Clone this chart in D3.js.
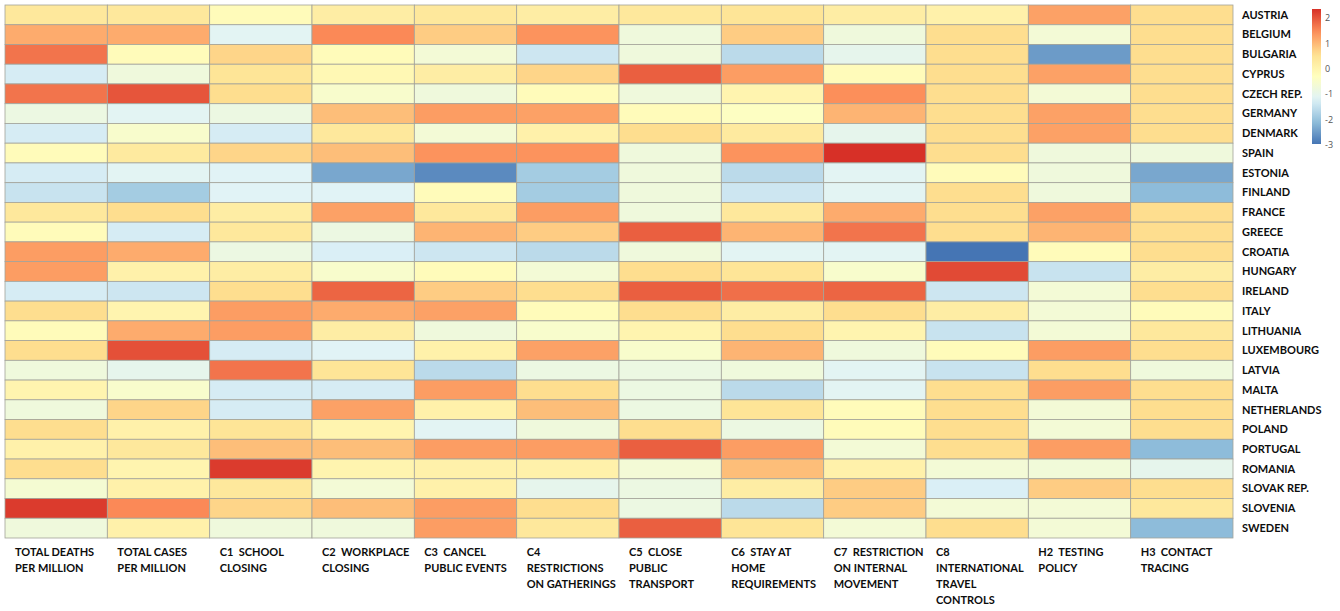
<!DOCTYPE html>
<html>
<head>
<meta charset="utf-8">
<script src="https://cdn.jsdelivr.net/npm/d3@7"></script>
<style>
  body { margin: 0; background: #fff; }
  svg { display: block; }
  .lab { white-space: pre; }
</style>
</head>
<body>
<svg width="1340" height="611"></svg>
<script>
const countries = ["AUSTRIA", "BELGIUM", "BULGARIA", "CYPRUS", "CZECH REP.", "GERMANY", "DENMARK",
  "SPAIN", "ESTONIA", "FINLAND", "FRANCE", "GREECE", "CROATIA", "HUNGARY", "IRELAND", "ITALY",
  "LITHUANIA", "LUXEMBOURG", "LATVIA", "MALTA", "NETHERLANDS", "POLAND", "PORTUGAL", "ROMANIA",
  "SLOVAK REP.", "SLOVENIA", "SWEDEN"];

// column labels, one entry per line
const measures = [
  ["TOTAL DEATHS", "PER MILLION"],
  ["TOTAL CASES", "PER MILLION"],
  ["C1  SCHOOL", "CLOSING"],
  ["C2  WORKPLACE", "CLOSING"],
  ["C3  CANCEL", "PUBLIC EVENTS"],
  ["C4", "RESTRICTIONS", "ON GATHERINGS"],
  ["C5  CLOSE", "PUBLIC", "TRANSPORT"],
  ["C6  STAY AT", "HOME", "REQUIREMENTS"],
  ["C7  RESTRICTION", "ON INTERNAL", "MOVEMENT"],
  ["C8", "INTERNATIONAL", "TRAVEL", "CONTROLS"],
  ["H2  TESTING", "POLICY"],
  ["H3  CONTACT", "TRACING"]
];

// standardised scores, one row per country, one value per measure
const scores = [
  [0.35, 0.35, -0.2, 0.2, 0.35, 0.2, 0.35, 0.45, 0.2, 0.1, 1.25, 0.6],
  [1.15, 1.15, -1.1, 1.5, 0.8, 1.4, -0.75, 0.8, -0.75, 0.6, -0.65, 0.6],
  [1.7, -0.2, 0.7, -0.2, -0.65, -1.4, -0.75, -1.6, -1.0, 0.6, -2.5, 0.6],
  [-1.3, -0.75, 0.45, -0.1, 0.2, 0.7, 1.9, 1.3, -0.2, 0.6, 1.25, 0.6],
  [1.7, 2.0, 0.6, -0.5, -0.75, -0.2, -0.75, 0.0, 1.45, 0.6, -0.65, 0.6],
  [-0.85, -1.1, -0.85, 0.95, 1.3, 1.25, -0.2, -0.35, 1.05, 0.6, 1.25, 0.6],
  [-1.3, -0.5, -1.3, 0.35, -0.65, 0.1, 0.6, 0.3, -1.0, 0.6, 1.25, 0.6],
  [-0.2, 0.3, 0.7, 0.95, 1.4, 1.4, -0.75, 1.4, 2.35, 0.6, -0.75, -0.75],
  [-1.3, -1.1, -1.15, -2.35, -2.7, -1.85, -0.75, -1.6, -1.1, -0.2, -0.75, -2.35],
  [-1.45, -1.85, -1.15, -1.15, -0.2, -1.85, -0.75, -1.4, -1.1, 0.6, -0.75, -2.1],
  [0.35, 0.6, 0.2, 1.25, 0.35, 1.3, -0.75, 0.35, 1.15, 0.6, 1.25, 0.6],
  [-0.2, -1.3, 0.35, -0.85, 1.05, 0.8, 1.9, 1.05, 1.7, 0.6, 1.05, 0.6],
  [1.3, 1.15, -0.85, -1.25, -1.4, -1.6, -0.75, -1.1, -1.1, -2.95, -0.2, 0.6],
  [1.3, 0.1, 0.2, -0.5, -0.2, -0.65, 0.6, 0.45, -0.5, 2.1, -1.45, 0.2],
  [-1.3, -1.4, 0.6, 1.85, 0.8, 0.6, 1.9, 1.75, 1.85, -1.4, -0.65, 0.6],
  [0.6, 0.0, 1.3, 1.15, 1.25, -0.2, 0.6, 0.2, 0.6, 0.2, -0.65, -0.2],
  [-0.2, 1.15, 1.3, 0.2, -0.75, -0.5, 0.0, 0.6, 0.0, -1.45, -0.65, 0.35],
  [0.6, 2.05, -1.3, -1.15, 0.1, 1.25, -0.5, 1.05, -0.75, -0.2, 1.3, 0.6],
  [-0.75, -1.0, 1.7, 0.45, -1.6, -0.85, -0.85, -0.75, -1.1, -1.45, 0.6, -0.75],
  [0.0, -0.5, -1.3, -1.3, 1.3, 0.6, -0.85, -1.6, -1.1, 0.6, 1.3, 0.6],
  [-0.75, 0.7, -1.3, 1.25, 0.1, 0.95, -0.85, 0.45, -0.2, 0.6, -0.65, 0.6],
  [0.6, 0.1, 0.45, 0.0, -1.1, -0.75, 0.6, -0.85, -0.2, 0.6, -0.65, 0.6],
  [0.1, 0.35, 0.95, 0.95, 1.3, 1.3, 1.9, 1.3, -0.65, 0.6, 1.3, -2.1],
  [0.6, 0.0, 2.25, 0.0, 0.1, 0.1, -0.65, 0.95, 0.1, -0.65, -0.7, -1.0],
  [-0.6, 0.1, 0.35, -0.65, 0.1, -1.0, -0.85, 0.2, 0.8, -1.25, 0.8, 0.6],
  [2.25, 1.5, 0.7, 0.95, 1.3, 0.6, -0.85, -1.6, 0.8, -0.65, -0.65, 0.35],
  [-0.75, 0.1, -0.75, -0.75, 1.3, 0.35, 1.9, 0.45, -0.65, 0.6, -0.65, -2.1]
];

const legendTicks = [-3, -2, -1, 0, 1, 2];
const palette = ["#4575B4", "#91BFDB", "#E0F3F8", "#FFFFBF", "#FEE090", "#FC8D59", "#D73027"];

const svg = d3.select("svg");
const font = "Lato, 'Open Sans', sans-serif";

const x = d3.scaleBand()
  .domain(d3.range(measures.length))
  .range([5, 1233]);

const y = d3.scaleBand()
  .domain(countries)
  .range([5, 538]);

const flat = scores.flat();
const lo = d3.min(flat), hi = d3.max(flat);
const color = d3.scaleLinear()
  .domain(palette.map((c, i) => lo + i * (hi - lo) / (palette.length - 1)))
  .range(palette)
  .interpolate(d3.interpolateRgb);

const cells = [];
scores.forEach((row, i) => row.forEach((v, j) => cells.push({ country: countries[i], col: j, v })));

svg.append("g")
  .selectAll("rect")
  .data(cells)
  .join("rect")
  .attr("x", d => x(d.col))
  .attr("y", d => y(d.country))
  .attr("width", x.bandwidth())
  .attr("height", y.bandwidth())
  .attr("fill", d => color(d.v))
  .attr("stroke", "#a3a39a")
  .attr("stroke-width", 0.8);

// country names on the right
svg.append("g")
  .selectAll("text")
  .data(countries)
  .join("text")
  .attr("x", 1242)
  .attr("y", d => y(d) + y.bandwidth() / 2)
  .attr("dy", "0.35em")
  .attr("font-family", font)
  .attr("font-weight", "bold")
  .attr("font-size", 11)
  .attr("fill", "#0d0d0d")
  .text(d => d);

// column labels underneath
const colLabels = svg.append("g")
  .selectAll("text")
  .data(measures)
  .join("text")
  .attr("class", "lab")
  .attr("x", (d, i) => x(i) + 10)
  .attr("y", 556)
  .attr("font-family", font)
  .attr("font-weight", "bold")
  .attr("font-size", 11)
  .attr("fill", "#0d0d0d");

colLabels.selectAll("tspan")
  .data(d => d)
  .join("tspan")
  .attr("x", function () { return this.parentNode.getAttribute("x"); })
  .attr("dy", (d, i) => i === 0 ? 0 : 16)
  .text(d => d);

// colour key
const ly = d3.scaleLinear().domain([lo, hi]).range([144, 9]);
const grad = svg.append("defs").append("linearGradient")
  .attr("id", "key")
  .attr("x1", 0).attr("y1", 1).attr("x2", 0).attr("y2", 0);
grad.selectAll("stop")
  .data(d3.range(0, 1.0001, 0.05))
  .join("stop")
  .attr("offset", d => d)
  .attr("stop-color", d => color(lo + d * (hi - lo)));

svg.append("rect")
  .attr("x", 1312)
  .attr("y", ly(hi))
  .attr("width", 9)
  .attr("height", ly(lo) - ly(hi))
  .attr("fill", "url(#key)");

svg.append("g")
  .selectAll("text")
  .data(legendTicks)
  .join("text")
  .attr("x", 1325)
  .attr("y", d => ly(d))
  .attr("dy", "0.35em")
  .attr("font-family", "'Open Sans', sans-serif")
  .attr("font-size", 9)
  .attr("fill", "#555")
  .text(d => d);
</script>
</body>
</html>
